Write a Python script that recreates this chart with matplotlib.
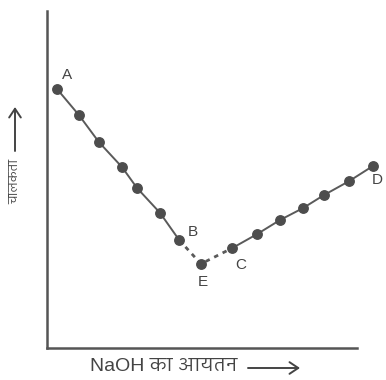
import matplotlib
matplotlib.use("Agg")
import matplotlib.pyplot as plt
from matplotlib import font_manager
from matplotlib.ft2font import FT2Font
from matplotlib.patches import FancyArrowPatch

# ---- data (arbitrary units) ----
vol_fall = [0.34, 1.04, 1.68, 2.42, 2.90, 3.64, 4.25]
cond_fall = [7.57, 6.81, 6.02, 5.29, 4.68, 3.95, 3.16]
vol_e = [4.95]
cond_e = [2.46]
vol_rise = [5.95, 6.75, 7.48, 8.22, 8.89, 9.70, 10.46]
cond_rise = [2.92, 3.33, 3.74, 4.09, 4.47, 4.88, 5.32]
point_labels = ["A", "B", "E", "C", "D"]
xlabel_text = "NaOH का आयतन"
ylabel_text = "चालकता"


def find_fonts(ch):
    names = []
    for f in font_manager.fontManager.ttflist:
        try:
            ft = FT2Font(f.fname)
            if ft.get_char_index(ord(ch)) and f.name not in names:
                names.append(f.name)
        except Exception:
            pass
    return names


def rank(name):
    n = name.lower()
    score = 0
    if "mono" in n:
        score += 10
    if "serif" in n and "sans" not in n:
        score += 3
    if "devanagari" in n:
        score -= 5
    if "sans" in n:
        score -= 2
    return score


cands = sorted(find_fonts("च"), key=rank)
deva = cands[0] if cands else None
fams = ["Liberation Sans"] + ([deva] if deva else []) + ["DejaVu Sans"]
plt.rcParams["font.family"] = fams

W, H = 386, 380
fig = plt.figure(figsize=(W / 100, H / 100), dpi=100)
left_px, right_px, top_px, bot_px = 46.5, 386, 11, 348
ax = fig.add_axes([left_px / W, 1 - bot_px / H, (right_px - left_px) / W, (bot_px - top_px) / H])
ax.set_xlim(0, (right_px - left_px) / 31.2)
ax.set_ylim(0, (bot_px - top_px) / 34.2)

gray_line = "#5a5a5a"
gray_pt = "#4d4d4d"
ax.plot(vol_fall, cond_fall, "-", color=gray_line, lw=1.4, zorder=2)
ax.plot(vol_rise, cond_rise, "-", color=gray_line, lw=1.4, zorder=2)
ax.plot([vol_fall[-1], vol_e[0], vol_rise[0]], [cond_fall[-1], cond_e[0], cond_rise[0]],
        color=gray_line, lw=2.0, linestyle=(0, (1.6, 1.8)), zorder=2)
for xs, ys in [(vol_fall, cond_fall), (vol_e, cond_e), (vol_rise, cond_rise)]:
    ax.plot(xs, ys, "o", color=gray_pt, ms=6.8, zorder=3, mec=gray_pt)

lab_kw = dict(color="#444444", fontsize=11, ha="center", va="center", family=["Liberation Sans", "DejaVu Sans"])
ax.annotate(point_labels[0], (vol_fall[0], cond_fall[0]), xytext=(7, 10), textcoords="offset points", **lab_kw)
ax.annotate(point_labels[1], (vol_fall[-1], cond_fall[-1]), xytext=(10, 6), textcoords="offset points", **lab_kw)
ax.annotate(point_labels[2], (vol_e[0], cond_e[0]), xytext=(1, -13), textcoords="offset points", **lab_kw)
ax.annotate(point_labels[3], (vol_rise[0], cond_rise[0]), xytext=(6, -12), textcoords="offset points", **lab_kw)
ax.annotate(point_labels[4], (vol_rise[-1], cond_rise[-1]), xytext=(3.5, -10), textcoords="offset points", **lab_kw)

for s in ["top", "right"]:
    ax.spines[s].set_visible(False)
for s in ["left", "bottom"]:
    ax.spines[s].set_color("#555555")
    ax.spines[s].set_linewidth(1.8)
ax.spines["bottom"].set_bounds(0, (357 - left_px) / 31.2)
ax.set_xticks([])
ax.set_yticks([])
ax.patch.set_visible(False)

fig.text(90 / W, 1 - 366 / H, xlabel_text, fontsize=14, color="#444444",
         ha="left", va="center", family=fams)
fig.text(15 / W, 1 - 204 / H, ylabel_text, fontsize=9, color="#444444",
         ha="center", va="bottom", rotation=90, family=fams)

arrow_kw = dict(arrowstyle="->,head_length=0.45,head_width=0.3", color="#444444", lw=1.4,
                mutation_scale=14, shrinkA=0, shrinkB=0, transform=fig.transFigure)
fig.add_artist(FancyArrowPatch((248 / W, 1 - 368 / H), (300 / W, 1 - 368 / H), **arrow_kw))
fig.add_artist(FancyArrowPatch((15 / W, 1 - 151 / H), (15 / W, 1 - 107 / H), **arrow_kw))

fig.savefig("out.png", dpi=100)
